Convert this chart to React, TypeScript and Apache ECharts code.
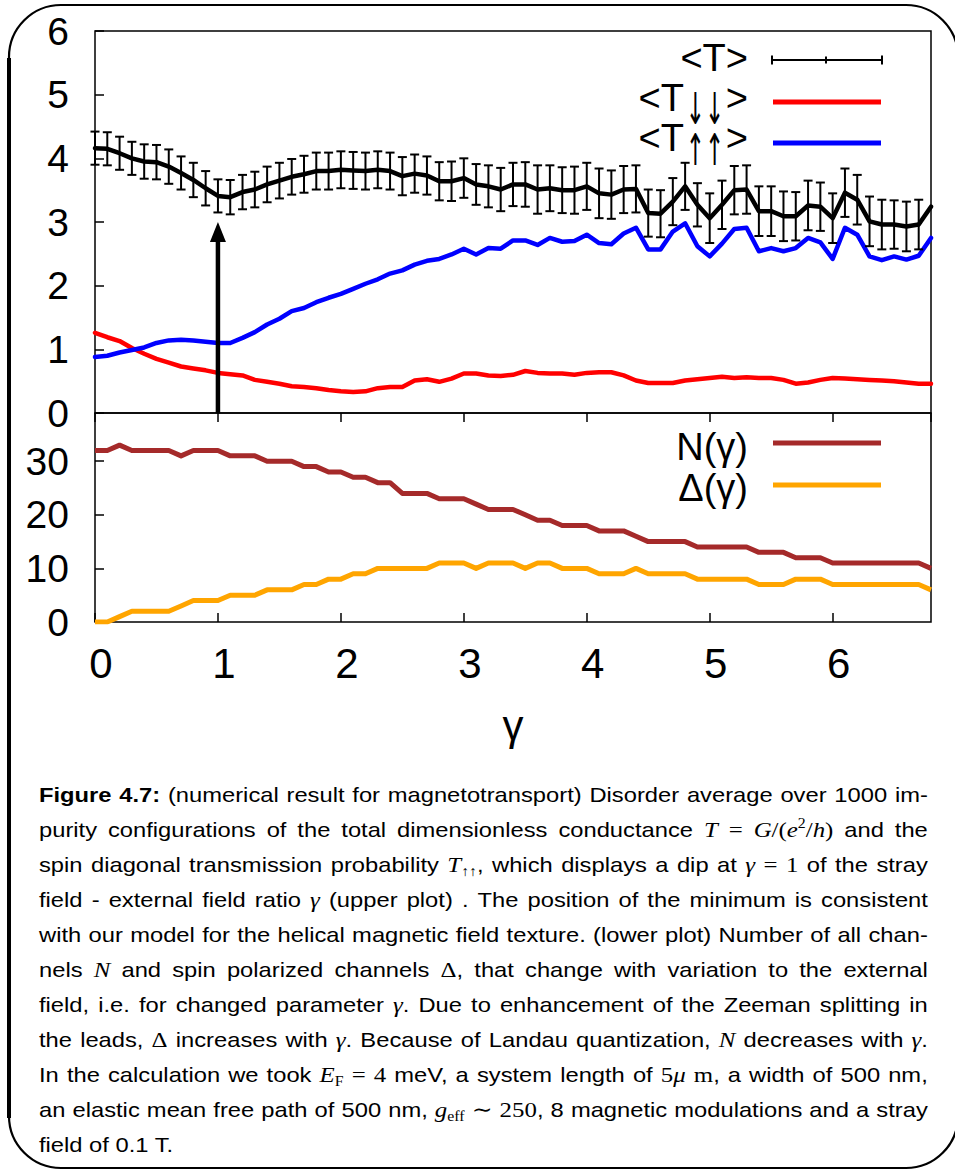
import React, { useEffect, useRef } from "react";
import * as echarts from "echarts";

// ---------- data ----------
const gamma = [
  0, 0.1, 0.2, 0.3, 0.4, 0.5, 0.6, 0.7, 0.8, 0.9,
  1, 1.1, 1.2, 1.3, 1.4, 1.5, 1.6, 1.7, 1.8, 1.9,
  2, 2.1, 2.2, 2.3, 2.4, 2.5, 2.6, 2.7, 2.8, 2.9,
  3, 3.1, 3.2, 3.3, 3.4, 3.5, 3.6, 3.7, 3.8, 3.9,
  4, 4.1, 4.2, 4.3, 4.4, 4.5, 4.6, 4.7, 4.8, 4.9,
  5, 5.1, 5.2, 5.3, 5.4, 5.5, 5.6, 5.7, 5.8, 5.9,
  6, 6.1, 6.2, 6.3, 6.4, 6.5, 6.6, 6.7, 6.8,
];

const tTotal = [
  4.16, 4.15, 4.08, 4.0, 3.95, 3.94, 3.87, 3.77, 3.66, 3.53,
  3.41, 3.39, 3.47, 3.51, 3.59, 3.65, 3.71, 3.75, 3.8, 3.8,
  3.82, 3.81, 3.8, 3.82, 3.8, 3.72, 3.76, 3.73, 3.64, 3.64,
  3.69, 3.59, 3.56, 3.51, 3.59, 3.59, 3.51, 3.53, 3.5, 3.5,
  3.56, 3.45, 3.43, 3.51, 3.52, 3.14, 3.13, 3.32, 3.56, 3.27,
  3.06, 3.27, 3.5, 3.51, 3.17, 3.17, 3.09, 3.09, 3.26, 3.24,
  3.06, 3.46, 3.35, 3.01, 2.96, 2.96, 2.93, 2.96, 3.24,
];

const tError = [
  0.26, 0.26, 0.26, 0.26, 0.27, 0.27, 0.27, 0.26, 0.27, 0.27,
  0.26, 0.27, 0.27, 0.28, 0.28, 0.28, 0.28, 0.29, 0.29, 0.29,
  0.29, 0.29, 0.29, 0.29, 0.29, 0.3, 0.3, 0.3, 0.3, 0.31,
  0.31, 0.32, 0.33, 0.34, 0.34, 0.35, 0.38, 0.36, 0.36, 0.37,
  0.37, 0.39, 0.38, 0.37, 0.37, 0.37, 0.37, 0.37, 0.37, 0.34,
  0.39, 0.38, 0.38, 0.38, 0.39, 0.39, 0.39, 0.38, 0.39, 0.38,
  0.39, 0.38, 0.39, 0.39, 0.39, 0.38, 0.39, 0.39,
];

const tDownDown = [
  1.26, 1.19, 1.13, 1.02, 0.93, 0.85, 0.79, 0.73, 0.7, 0.67,
  0.63, 0.61, 0.59, 0.52, 0.49, 0.46, 0.42, 0.41, 0.39, 0.36,
  0.34, 0.33, 0.34, 0.39, 0.41, 0.41, 0.51, 0.53, 0.49, 0.54,
  0.62, 0.62, 0.59, 0.58, 0.6, 0.66, 0.63, 0.62, 0.62, 0.6,
  0.63, 0.64, 0.64, 0.59, 0.51, 0.47, 0.47, 0.47, 0.51, 0.53,
  0.55, 0.57, 0.55, 0.56, 0.55, 0.55, 0.52, 0.46, 0.48, 0.52,
  0.55, 0.54, 0.53, 0.52, 0.51, 0.5, 0.48, 0.46, 0.46,
];

const tUpUp = [
  0.88, 0.9, 0.95, 0.99, 1.03, 1.1, 1.14, 1.15, 1.14, 1.12,
  1.1, 1.1, 1.18, 1.27, 1.39, 1.48, 1.6, 1.65, 1.74, 1.81,
  1.87, 1.95, 2.03, 2.1, 2.19, 2.24, 2.33, 2.39, 2.42, 2.49,
  2.58, 2.49, 2.59, 2.58, 2.71, 2.71, 2.64, 2.75, 2.69, 2.7,
  2.8, 2.67, 2.65, 2.82, 2.91, 2.57, 2.57, 2.85, 2.98, 2.62,
  2.46, 2.66, 2.89, 2.91, 2.54, 2.59, 2.54, 2.59, 2.75, 2.68,
  2.42, 2.91, 2.8, 2.46, 2.4, 2.46, 2.41, 2.47, 2.75,
];

const nChannels = [
  32, 32, 33, 32, 32, 32, 32, 31, 32, 32,
  32, 31, 31, 31, 30, 30, 30, 29, 29, 28,
  28, 27, 27, 26, 26, 24, 24, 24, 23, 23,
  23, 22, 21, 21, 21, 20, 19, 19, 18, 18,
  18, 17, 17, 17, 16, 15, 15, 15, 15, 14,
  14, 14, 14, 14, 13, 13, 13, 12, 12, 12,
  11, 11, 11, 11, 11, 11, 11, 11, 10,
];

const deltaChannels = [
  0, 0, 1, 2, 2, 2, 2, 3, 4, 4,
  4, 5, 5, 5, 6, 6, 6, 7, 7, 8,
  8, 9, 9, 10, 10, 10, 10, 10, 11, 11,
  11, 10, 11, 11, 11, 10, 11, 11, 10, 10,
  10, 9, 9, 9, 10, 9, 9, 9, 9, 8,
  8, 8, 8, 8, 7, 7, 7, 8, 8, 8,
  7, 7, 7, 7, 7, 7, 7, 7, 6,
];

// arrow marking the dip: [gamma, from, to]
const arrowMark = [[1, 0, 3]];

const upperTicks = { min: 0, max: 6, interval: 1 };
const lowerTicks = { min: 0, max: 39, interval: 10 };
const gammaTicks = { min: 0, max: 6.8, interval: 1 };

const legendUpper = ["<T>", "<T", "↓↓", ">", "<T", "↑↑", ">"];
const legendLower = ["N(γ)", "Δ(γ)"];
const axisTitle = "γ";

// ---------- style ----------
const SANS = "'Liberation Sans', Arial, Helvetica, sans-serif";
const SERIF = "'Liberation Serif', 'DejaVu Serif', serif";
const ARROWS = "'DejaVu Sans', sans-serif";

const pair = (ys: number[]) => ys.map((y, i) => [gamma[i], y]);

function buildOption() {
  const tick = { show: true, inside: true, length: 9, lineStyle: { color: "#000", width: 1.5 } };
  const noLine = { show: false };
  const label = { color: "#000", fontSize: 39, fontFamily: SANS };
  const legendLine = (y: number, color: string, wd: number) => ({
    type: "line",
    shape: { x1: 773, y1: y, x2: 881, y2: y },
    style: { stroke: color, lineWidth: wd },
    z: 20,
  });
  const txt = (s: string, x: number, y: number, align: string, size = 38, family = SANS, extra: any = {}) => ({
    type: "text",
    x,
    y,
    z: 20,
    ...extra,
    style: {
      text: s,
      fill: "#000",
      font: `${size}px ${family}`,
      align,
      verticalAlign: "middle",
      lineHeight: Math.round(size * 0.8),
    },
  });
  const bar = { stroke: "#000", lineWidth: 2 };

  return {
    animation: false,
    textStyle: { fontFamily: SANS },
    grid: [
      { left: 95, top: 31, width: 836, height: 382, show: true, borderColor: "#000", borderWidth: 1.5, backgroundColor: "transparent" },
      { left: 95, top: 413, width: 836, height: 209, show: true, borderColor: "#000", borderWidth: 1.5, backgroundColor: "transparent" },
    ],
    xAxis: [
      {
        gridIndex: 0, type: "value", ...gammaTicks,
        axisLine: noLine, axisTick: { show: false }, axisLabel: { show: false }, splitLine: { show: false },
      },
      {
        gridIndex: 1, type: "value", position: "bottom", ...gammaTicks,
        axisLine: noLine, axisTick: tick,
        axisLabel: { ...label, fontSize: 42, margin: 20, showMaxLabel: false, padding: [0, 0, 0, 12] },
        splitLine: { show: false },
      },
      {
        gridIndex: 1, type: "value", position: "top", ...gammaTicks,
        axisLine: noLine, axisTick: tick, axisLabel: { show: false }, splitLine: { show: false },
      },
    ],
    yAxis: [
      {
        gridIndex: 0, type: "value", ...upperTicks,
        axisLine: noLine, axisTick: tick, axisLabel: { ...label, margin: 26 }, splitLine: { show: false },
      },
      {
        gridIndex: 1, type: "value", ...lowerTicks,
        axisLine: noLine, axisTick: tick, axisLabel: { ...label, margin: 26, showMaxLabel: false }, splitLine: { show: false },
      },
    ],
    series: [
      {
        name: "<T↓↓>", type: "line", xAxisIndex: 0, yAxisIndex: 0, data: pair(tDownDown),
        symbol: "none", lineStyle: { color: "#ff0000", width: 4.5, join: "round", cap: "round" }, z: 2,
      },
      {
        name: "<T↑↑>", type: "line", xAxisIndex: 0, yAxisIndex: 0, data: pair(tUpUp),
        symbol: "none", lineStyle: { color: "#0000ff", width: 4.5, join: "round", cap: "round" }, z: 2,
      },
      {
        name: "errors", type: "custom", xAxisIndex: 0, yAxisIndex: 0, z: 3, clip: false,
        data: tError.map((e, i) => [gamma[i], tTotal[i], e]),
        encode: { x: 0, y: 1 },
        renderItem: (_p: any, api: any) => {
          const x = api.value(0), y = api.value(1), e = api.value(2);
          const top = api.coord([x, y + e]);
          const bot = api.coord([x, y - e]);
          const cw = 4.5;
          return {
            type: "group",
            children: [
              { type: "line", shape: { x1: top[0], y1: top[1], x2: bot[0], y2: bot[1] }, style: bar },
              { type: "line", shape: { x1: top[0] - cw, y1: top[1], x2: top[0] + cw, y2: top[1] }, style: bar },
              { type: "line", shape: { x1: bot[0] - cw, y1: bot[1], x2: bot[0] + cw, y2: bot[1] }, style: bar },
            ],
          };
        },
      },
      {
        name: "<T>", type: "line", xAxisIndex: 0, yAxisIndex: 0, data: pair(tTotal),
        symbol: "none", lineStyle: { color: "#000", width: 4.5, join: "round", cap: "round" }, z: 4,
      },
      {
        name: "arrow", type: "custom", xAxisIndex: 0, yAxisIndex: 0, z: 5, clip: false,
        data: arrowMark, encode: { x: 0, y: 2 },
        renderItem: (_p: any, api: any) => {
          const x = api.value(0);
          const p0 = api.coord([x, api.value(1)]);
          const p1 = api.coord([x, api.value(2)]);
          const hl = 20, hw = 8;
          return {
            type: "group",
            children: [
              { type: "line", shape: { x1: p0[0], y1: p0[1], x2: p1[0], y2: p1[1] + hl - 2 }, style: { stroke: "#000", lineWidth: 4.5 } },
              { type: "polygon", shape: { points: [[p1[0], p1[1]], [p1[0] - hw, p1[1] + hl], [p1[0] + hw, p1[1] + hl]] }, style: { fill: "#000" } },
            ],
          };
        },
      },
      {
        name: "N(γ)", type: "line", xAxisIndex: 1, yAxisIndex: 1, data: pair(nChannels),
        symbol: "none", lineStyle: { color: "#a52a2a", width: 5, join: "round" }, z: 2,
      },
      {
        name: "Δ(γ)", type: "line", xAxisIndex: 1, yAxisIndex: 1, data: pair(deltaChannels),
        symbol: "none", lineStyle: { color: "#ffa500", width: 5, join: "round" }, z: 2,
      },
    ],
    graphic: [
      // page frame
      {
        type: "rect", z: 1, silent: true,
        shape: { x: 9, y: 5, width: 949, height: 1163, r: 52 },
        style: { fill: "none", stroke: "#000", lineWidth: 2.2 },
      },
      {
        type: "line", z: 1, silent: true,
        shape: { x1: 9, y1: 58, x2: 9, y2: 1118 },
        style: { stroke: "#000", lineWidth: 4 },
      },
      // upper legend
      txt(legendUpper[0], 748, 58, "right"),
      { type: "line", z: 20, shape: { x1: 772, y1: 60, x2: 882, y2: 60 }, style: { stroke: "#000", lineWidth: 2 } },
      { type: "line", z: 20, shape: { x1: 772, y1: 55.5, x2: 772, y2: 64.5 }, style: { stroke: "#000", lineWidth: 2 } },
      { type: "line", z: 20, shape: { x1: 882, y1: 55.5, x2: 882, y2: 64.5 }, style: { stroke: "#000", lineWidth: 2 } },
      { type: "line", z: 20, shape: { x1: 826, y1: 56.5, x2: 826, y2: 63.5 }, style: { stroke: "#000", lineWidth: 2 } },
      txt(legendUpper[1], 684, 98, "right"),
      txt(legendUpper[2], 705, 109, "center", 23, ARROWS, { scaleY: 1.9 }),
      txt(legendUpper[3], 748, 98, "right"),
      legendLine(102, "#ff0000", 5),
      txt(legendUpper[4], 684, 138, "right"),
      txt(legendUpper[5], 705, 150, "center", 23, ARROWS, { scaleY: 1.9 }),
      txt(legendUpper[6], 748, 138, "right"),
      legendLine(143, "#0000ff", 5),
      // lower legend
      txt(legendLower[0], 748, 447, "right"),
      legendLine(443, "#a52a2a", 5),
      txt(legendLower[1], 748, 488, "right"),
      legendLine(485, "#ffa500", 5),
      // axis title
      txt(axisTitle, 513, 725, "center", 42),
    ],
  };
}

// ---------- caption ----------
const M = ({ children }: any) => (
  <span style={{ fontFamily: SERIF, fontStyle: "italic", fontSize: 22 }}>{children}</span>
);
const U = ({ children }: any) => <span style={{ fontFamily: SERIF, fontSize: 22 }}>{children}</span>;
const Sb = ({ children }: any) => (
  <span style={{ fontFamily: SERIF, fontSize: 14, position: "relative", top: 4 }}>{children}</span>
);
const Sp = ({ children }: any) => (
  <span style={{ fontFamily: SERIF, fontSize: 14, position: "relative", top: -9 }}>{children}</span>
);
const w = (s: string) => s.split(" ");

const captionLines: any[][] = [
  [<b>Figure</b>, <b>4.7:</b>, ...w("(numerical result for magnetotransport) Disorder average over 1000 im-")],
  [
    ...w("purity configurations of the total dimensionless conductance"),
    <M>T</M>, <U>=</U>,
    <><M>G</M><U>/(</U><M>e</M><Sp>2</Sp><U>/</U><M>h</M><U>)</U></>,
    "and", "the",
  ],
  [
    ...w("spin diagonal transmission probability"),
    <><M>T</M><Sb>↑↑</Sb>,</>,
    ...w("which displays a dip at"), <M>γ</M>, <U>=</U>, <U>1</U>, ...w("of the stray"),
  ],
  [...w("field - external field ratio"), <M>γ</M>, ...w("(upper plot) . The position of the minimum is consistent")],
  w("with our model for the helical magnetic field texture. (lower plot) Number of all chan-"),
  ["nels", <M>N</M>, ...w("and spin polarized channels"), <><U>Δ</U>,</>, ...w("that change with variation to the external")],
  [...w("field, i.e. for changed parameter"), <><M>γ</M>.</>, ...w("Due to enhancement of the Zeeman splitting in")],
  [
    ...w("the leads,"), <U>Δ</U>, ...w("increases with"), <><M>γ</M>.</>,
    ...w("Because of Landau quantization,"), <M>N</M>, ...w("decreases with"), <><M>γ</M>.</>,
  ],
  [
    ...w("In the calculation we took"), <><M>E</M><Sb>F</Sb></>, <U>=</U>, <U>4</U>,
    ...w("meV, a system length of"), <><U>5</U><M>μ</M></>, <><U>m</U>,</>, ...w("a width of 500 nm,"),
  ],
  [
    ...w("an elastic mean free path of 500 nm,"), <><M>g</M><Sb>eff</Sb></>, <U>∼</U>, <><U>250</U>,</>,
    ...w("8 magnetic modulations and a stray"),
  ],
];
const captionLast = "field of 0.1 T.";
const CAP_STRETCH = 1.13;

export default function App() {
  const ref = useRef<HTMLDivElement>(null);
  useEffect(() => {
    if (!ref.current) return;
    const chart = echarts.init(ref.current, undefined, { renderer: "svg" });
    chart.setOption(buildOption() as any);
    return () => chart.dispose();
  }, []);

  return (
    <div style={{ position: "absolute", left: 0, top: 0, width: 955, height: 1170, background: "#fff", overflow: "hidden" }}>
      <div ref={ref} style={{ position: "absolute", left: 0, top: 0, width: 955, height: 1170 }} />
      <div
        style={{
          position: "absolute", left: 39, top: 777, width: 889 / CAP_STRETCH,
          transform: `scaleX(${CAP_STRETCH})`, transformOrigin: "left top",
          fontFamily: SANS, fontSize: 21, color: "#000", lineHeight: "35px",
        }}
      >
        {captionLines.map((line, i) => (
          <div
            key={i}
            style={{ display: "flex", justifyContent: "space-between", alignItems: "baseline", height: 35, whiteSpace: "nowrap" }}
          >
            {line.map((wd, j) => (
              <span key={j}>{wd}</span>
            ))}
          </div>
        ))}
        <div style={{ height: 35, whiteSpace: "nowrap" }}>{captionLast}</div>
      </div>
    </div>
  );
}
